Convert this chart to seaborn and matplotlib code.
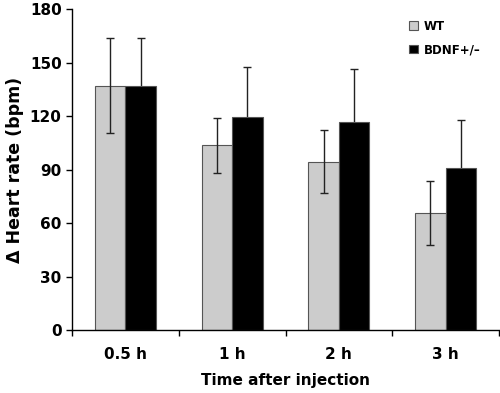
import matplotlib
matplotlib.use("Agg")
import matplotlib.pyplot as plt
import seaborn as sns
import pandas as pd
import numpy as np

# values
times = ["0.5 h", "1 h", "2 h", "3 h"]
wt_mean = [137, 103.5, 94.5, 65.5]
wt_err = [26.5, 15.5, 17.5, 18]
bdnf_mean = [137, 119.5, 116.5, 91]
bdnf_err = [26.5, 28, 30, 27]
groups = ["WT", "BDNF+/\u2013"]

df = pd.DataFrame({
    "time": times * 2,
    "group": [groups[0]] * 4 + [groups[1]] * 4,
    "value": wt_mean + bdnf_mean,
})

sns.set_style("ticks")
plt.rcParams["font.family"] = ["DejaVu Sans"]
plt.rcParams["font.weight"] = "bold"
plt.rcParams["text.color"] = "black"
plt.rcParams["axes.labelcolor"] = "black"
plt.rcParams["xtick.color"] = "black"
plt.rcParams["ytick.color"] = "black"
plt.rcParams["axes.edgecolor"] = "black"

fig = plt.figure(figsize=(5, 3.93), dpi=100)
ax = fig.add_axes([0.144, 0.16, 0.854, 0.817])

sns.barplot(data=df, x="time", y="value", hue="group", order=times, hue_order=groups,
            palette=["#cccccc", "#000000"], width=0.57, gap=0, errorbar=None,
            edgecolor="#555555", linewidth=0.8, ax=ax)

# WT error bars drawn over the bars, BDNF ones behind (lower half hidden by the black bar)
for cont, errs, z in zip(ax.containers, [wt_err, bdnf_err], [3, 0.5]):
    xs = [p.get_x() + p.get_width() / 2 for p in cont.patches]
    hs = [p.get_height() for p in cont.patches]
    ax.errorbar(xs, hs, yerr=errs, fmt="none", ecolor="#222222", elinewidth=1,
                capsize=3, capthick=1, zorder=z)

ax.set_ylim(0, 180)
ax.set_yticks(range(0, 181, 30))
ax.set_xlim(-0.5, 3.5)
ax.set_xticks(np.arange(-0.5, 3.6, 1), minor=True)
ax.tick_params(axis="x", which="major", length=0, labelsize=11, pad=12)
ax.tick_params(axis="x", which="minor", length=4, width=1)
ax.tick_params(axis="y", length=4, width=1, labelsize=11)
for lab in ax.get_xticklabels() + ax.get_yticklabels():
    lab.set_fontweight("bold")
sns.despine(ax=ax)
ax.spines["left"].set_linewidth(1)
ax.spines["bottom"].set_linewidth(1)

ax.set_xlabel("Time after injection", fontsize=11, fontweight="bold", labelpad=8)
ax.set_ylabel("\u0394 Heart rate (bpm)", fontsize=12.5, fontweight="bold", labelpad=4)

leg = ax.legend(loc="upper left", bbox_to_anchor=(0.765, 1.0), frameon=False,
                handlelength=0.7, handleheight=0.7, handletextpad=0.5,
                labelspacing=0.9, prop={"weight": "bold", "size": 8.5})

fig.savefig("out.png", dpi=100)
